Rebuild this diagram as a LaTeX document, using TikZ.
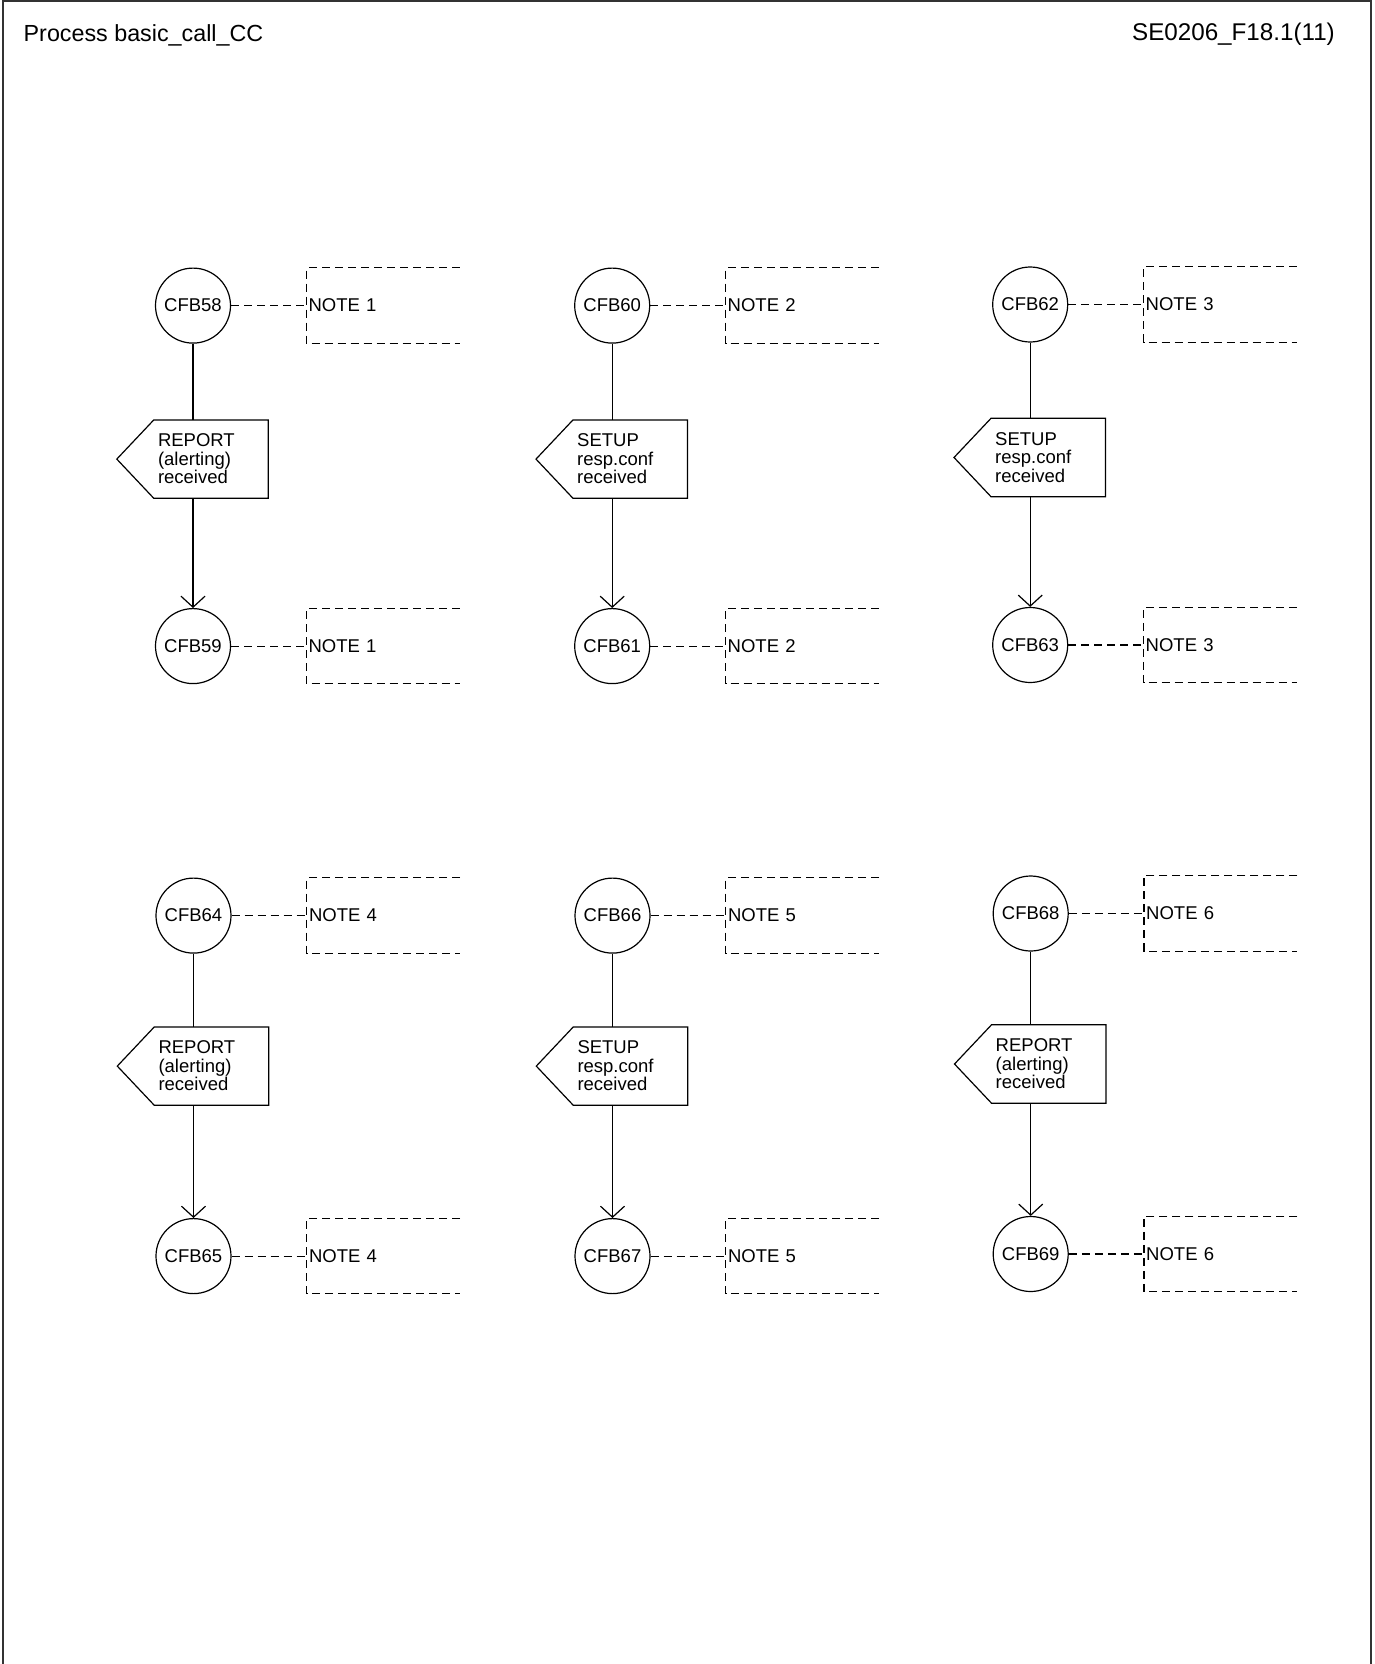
\documentclass[tikz,border=0pt]{standalone}
\usepackage{fontspec}
\setmainfont{Liberation Sans}
\usetikzlibrary{arrows.meta,calc}
\begin{document}
\begin{tikzpicture}[x=1pt,y=-1pt,
  every node/.style={font=\fontsize{18.5}{18.5}\selectfont},
  conn/.style={circle,draw,line width=1.2pt,minimum size=75pt,inner sep=0pt},
  notebox/.style={rectangle,minimum width=153pt,minimum height=75pt,text width=149pt,inner xsep=2pt,inner ysep=0pt,align=left},
  sigbox/.style={rectangle,minimum width=114pt,minimum height=78pt,text width=106pt,inner xsep=4pt,inner ysep=0pt,align=left},
  flow/.style={line width=1.2pt},
  dashline/.style={line width=1.1pt,dash pattern=on 8pt off 5pt},
  frameline/.style={line width=1.5pt,draw=black!80},
  titletext/.style={font=\fontsize{23.3}{23.3}\selectfont,inner sep=0pt},
]
\useasboundingbox (0,0) rectangle (1374,1664);
% frame
\coordinate (fbl) at (3,1664);
\coordinate (ftl) at (3,1);
\coordinate (ftr) at (1371,1);
\coordinate (fbr) at (1371,1664);
\draw[frameline] (fbl) -- (ftl) -- (ftr) -- (fbr);
% titles
\node[titletext,anchor=west] (title) at (23.5,35.5) {Process basic\_call\_CC};
\node[titletext,anchor=east,font=\fontsize{24.2}{24.2}\selectfont] (ref) at (1335,34.5) {SE0206\_F18.1(11)};
% blocks
\foreach \cx/\cy/\sy/\a/\b/\nt/\la/\lb/\lc in {
  193/305.6/153.5/58/59/NOTE 1/REPORT/{(alerting)}/received,
  612.2/305.6/153.5/60/61/NOTE 2/SETUP/resp.conf/received,
  1030.2/304.5/153/62/63/NOTE 3/SETUP/resp.conf/received,
  193.5/915.6/150.5/64/65/NOTE 4/REPORT/{(alerting)}/received,
  612.5/915.6/150.5/66/67/NOTE 5/SETUP/resp.conf/received,
  1030.7/913.5/150.5/68/69/NOTE 6/REPORT/{(alerting)}/received}{
  \node[conn] (c\a) at (\cx,\cy) {CFB\a};
  \node[conn] (c\b) at (\cx,\cy+340.5) {CFB\b};
  \node[notebox] (n\a) at (\cx+190,\cy) {\nt};
  \node[notebox] (n\b) at (\cx+190,\cy+340.5) {\nt};
  \node[sigbox] (s\a) at (\cx+18,\cy+\sy) {\la\\\lb\\\lc};
  % input signal outline
  \draw[flow] (s\a.north west) -- (s\a.north east) -- (s\a.south east)
     -- (s\a.south west) -- ($(s\a.west)+(-37,0)$) -- cycle;
  % flow lines
  \draw[flow] (c\a) -- (c\a |- s\a.north);
  \draw[flow,-{Straight Barb[length=11pt,width=24pt]}] (c\a |- s\a.south) -- (c\b);
  % comment boxes
  \foreach \n/\c in {n\a/c\a,n\b/c\b}{
    \draw[dashline] (\n.north east) -- (\n.north west) -- (\n.south west) -- (\n.south east);
    \draw[dashline] (\c.east) -- (\n.west);
  }
}
\end{tikzpicture}
\end{document}
